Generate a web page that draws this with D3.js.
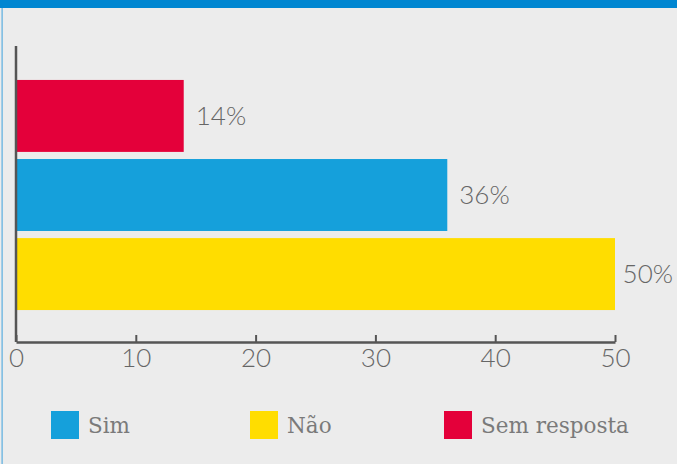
<!DOCTYPE html>
<html>
<head>
<meta charset="utf-8">
<script src="https://cdn.jsdelivr.net/npm/d3@7"></script>
<style>
  html, body { margin: 0; padding: 0; background: #ececec; }
  svg { display: block; }
</style>
</head>
<body>
<svg id="svg" width="677" height="464"></svg>
<script>
(function() {
    'use strict';

    // 데이터
    var categories = ['Sem resposta', 'Sim', 'Não'];   // 위에서 아래로 막대 순서
    var values = [14, 36, 50];
    var colors = ['#e4003a', '#15a0db', '#ffdd00'];
    var xTicks = [0, 10, 20, 30, 40, 50];
    var legendOrder = ['Sim', 'Não', 'Sem resposta'];

    var svg = d3.select('#svg');

    // 배경과 상단 파란 띠
    svg.append('rect').attr('width', 677).attr('height', 464).attr('fill', '#ececec');
    svg.append('rect').attr('width', 677).attr('height', 8).attr('fill', '#0086d1');
    svg.append('rect').attr('x', 1.5).attr('y', 8).attr('width', 1.2).attr('height', 456).attr('fill', '#5aaee0');

    var x = d3.scaleLinear().domain([0, 50]).range([16, 615]);
    var y = d3.scaleBand().domain(categories).range([76, 314])
        .paddingInner(0.09).paddingOuter(0.05);

    var axisY = 342;

    // 막대
    var bars = svg.selectAll('.bar')
        .data(categories)
        .enter()
        .append('g')
        .classed('bar', true);

    bars.append('rect')
        .attr('x', x(0))
        .attr('y', function (d) { return y(d); })
        .attr('width', function (d, i) { return x(values[i]) - x(0); })
        .attr('height', y.bandwidth())
        .attr('fill', function (d, i) { return colors[i]; });

    // 막대 라벨 (오른쪽 끝을 넘지 않도록)
    bars.append('text')
        .text(function (d, i) { return values[i] + '%'; })
        .attr('font-family', 'Lato, sans-serif')
        .attr('font-weight', 300)
        .attr('font-size', 26)
        .attr('fill', '#666')
        .attr('y', function (d) { return y(d) + y.bandwidth() / 2 + 9; })
        .each(function (d, i) {
            var w = this.getBBox().width;
            d3.select(this).attr('x', Math.min(x(values[i]) + 12, 673 - w));
        });

    // 세로 축선
    svg.append('line')
        .attr('x1', x(0)).attr('x2', x(0))
        .attr('y1', 46).attr('y2', axisY)
        .attr('stroke', '#555').attr('stroke-width', 2.5);

    // 가로 축
    var gx = svg.append('g')
        .attr('transform', 'translate(0,' + axisY + ')')
        .call(d3.axisBottom(x).tickValues(xTicks).tickSize(-7).tickPadding(7).tickSizeOuter(0));

    gx.select('.domain').attr('stroke', '#555').attr('stroke-width', 2.5);
    gx.selectAll('.tick line').attr('stroke', '#555').attr('stroke-width', 2);
    gx.selectAll('.tick text')
        .attr('font-family', 'Lato, sans-serif')
        .attr('font-weight', 300)
        .attr('font-size', 26)
        .attr('fill', '#666');

    // 범례
    var legendX = [51, 250, 444];
    var legend = svg.selectAll('.legend')
        .data(legendOrder)
        .enter()
        .append('g')
        .classed('legend', true)
        .attr('transform', function (d, i) { return 'translate(' + legendX[i] + ',411)'; });

    legend.append('rect')
        .attr('width', 28).attr('height', 28)
        .attr('fill', function (d) { return colors[categories.indexOf(d)]; });

    legend.append('text')
        .text(function (d) { return d; })
        .attr('x', 37).attr('y', 22)
        .attr('font-family', '"DejaVu Serif", serif')
        .attr('font-size', 21.5)
        .attr('fill', '#7a7a7a');
})();
</script>
</body>
</html>
